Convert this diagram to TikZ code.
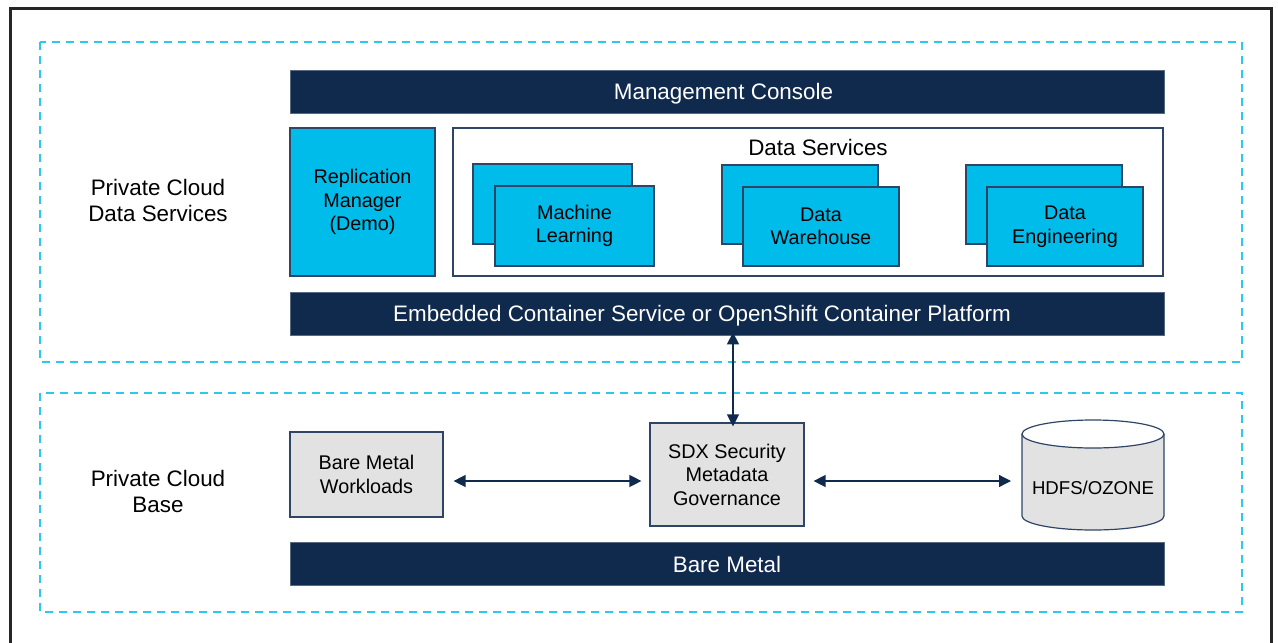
\documentclass[tikz,border=0pt]{standalone}
\usepackage{fontspec}
\setmainfont{Liberation Sans}
\usetikzlibrary{arrows.meta,shapes.geometric}
\definecolor{navy}{HTML}{0F2A4D}
\definecolor{cblue}{HTML}{00BCEB}
\definecolor{dashc}{HTML}{2CC8EE}
\definecolor{gfill}{HTML}{E2E2E2}
\definecolor{bline}{HTML}{2E4566}
\tikzset{
  x=1pt,y=-1pt,
  bar/.style={fill=navy,draw=navy!70!white,line width=0.8pt,text=white,font=\fontsize{22.4}{26}\selectfont,text height=16pt,text depth=0pt},
  bluebox/.style={fill=cblue,draw=bline,line width=1.2pt,align=center,font=\fontsize{19.8}{23.5}\selectfont},
  graybox/.style={fill=gfill,draw=bline,line width=1.2pt,align=center,font=\fontsize{19.8}{23.5}\selectfont},
  zone/.style={draw=dashc,line width=1.6pt,dash pattern=on 8pt off 6pt},
  lbl/.style={align=center,font=\fontsize{22.4}{26}\selectfont},
  conn/.style={draw=navy,line width=1.3pt,{Triangle[length=12pt,width=12pt]}-{Triangle[length=12pt,width=12pt]}},
}
\begin{document}
\begin{tikzpicture}
\useasboundingbox (0,0) rectangle (1278,643);
% outer frame
\draw[line width=3pt,draw=black!85] (10.5,660) -- (10.5,8.5) -- (1271,8.5) -- (1271,660);
% zones
\draw[zone] (40,42) rectangle (1242,362);
\draw[zone] (40,393) rectangle (1242,612);
% labels
\node[lbl] (pcds) at (158,200) {Private Cloud\\Data Services};
\node[lbl] (pcb) at (158,491) {Private Cloud\\Base};
% bars
\node[bar,minimum width=874pt,minimum height=43pt,inner sep=0pt] (mc) at (727,91.5) {\hspace*{-7pt}Management Console};
\node[bar,minimum width=874pt,minimum height=43pt,inner sep=0pt] (ecs) at (727,313.5) {\hspace*{-50pt}Embedded Container Service or OpenShift Container Platform};
\node[bar,minimum width=874pt,minimum height=43pt,inner sep=0pt] (bm) at (727,564) {Bare Metal};
% replication manager
\node[bluebox,minimum width=145pt,minimum height=148pt,inner sep=0pt] (rm) at (362.5,202) {Replication\\Manager\\(Demo)};
% data services container
\draw[draw=bline,line width=1.2pt,fill=white] (453,128) rectangle (1163,276);
\node[font=\fontsize{22.4}{26}\selectfont] (dst) at (818,147) {Data Services};
% stacked boxes
\draw[fill=cblue,draw=bline,line width=1.2pt] (473,164) rectangle (632,244);
\node[bluebox,minimum width=159pt,minimum height=80pt,inner sep=0pt] (ml) at (574.5,226) {Machine\\Learning};
\draw[fill=cblue,draw=bline,line width=1.2pt] (722,165) rectangle (878,244);
\node[bluebox,minimum width=156pt,minimum height=79pt,inner sep=0pt] (dw) at (821,226.5) {Data\\Warehouse};
\draw[fill=cblue,draw=bline,line width=1.2pt] (966,165) rectangle (1122,244);
\node[bluebox,minimum width=156pt,minimum height=79pt,inner sep=0pt] (de) at (1065,226.5) {Data\\Engineering};
% base
\node[graybox,minimum width=153pt,minimum height=85pt,inner sep=0pt] (bmw) at (366.5,474.5) {Bare Metal\\Workloads};
\node[graybox,minimum width=154pt,minimum height=103pt,inner sep=0pt] (sdx) at (727,474.5) {SDX Security\\Metadata\\Governance};
% cylinder
\fill[gfill] (1022,434) -- (1022,516) arc[start angle=180,end angle=360,x radius=71,y radius=-14] -- (1164,434) arc[start angle=0,end angle=180,x radius=71,y radius=14] -- cycle;
\draw[draw=bline,line width=1.2pt] (1022,434) -- (1022,516) arc[start angle=180,end angle=360,x radius=71,y radius=-14] -- (1164,434);
\draw[draw=bline,line width=1.2pt] (1093,434) ellipse[x radius=71,y radius=14];
\node[font=\fontsize{18.6}{22}\selectfont] (hdfs) at (1093,488) {HDFS/OZONE};
\coordinate (hl) at (1022,481);
% connectors
\draw[conn] ([yshift=3pt]ecs.south -| 733,0) -- ([yshift=-4pt]sdx.north -| 733,0);
\draw[conn] ([xshift=10pt]bmw.east |- 0,481) -- ([xshift=-8pt]sdx.west |- 0,481);
\draw[conn] ([xshift=9pt]sdx.east |- 0,481) -- ([xshift=-11pt]hl);
\end{tikzpicture}
\end{document}
